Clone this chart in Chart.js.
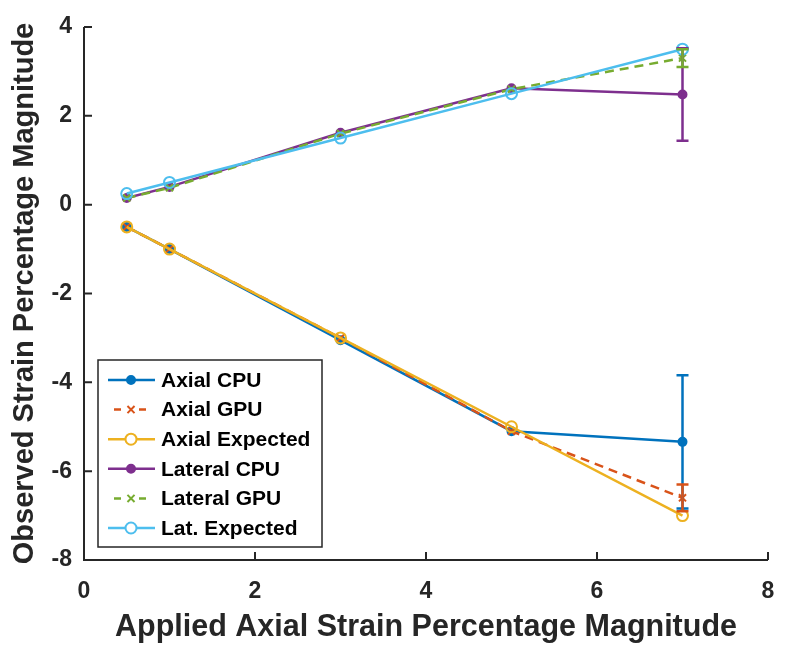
<!DOCTYPE html>
<html>
<head>
<meta charset="utf-8">
<script src="https://cdn.jsdelivr.net/npm/chart.js@4/dist/chart.umd.min.js"></script>
<style>
  html, body { margin: 0; padding: 0; background: #fff; }
</style>
</head>
<body>
<canvas id="strainChart" width="787" height="654"></canvas>
<script>
  // applied strain (x) and observed strain per series
  const appliedStrain = [0.5, 1, 3, 5, 7];

  const axialCpu = [-0.5, -1.0, -3.05, -5.1, -5.34];
  const axialGpu = [-0.5, -1.0, -3.0, -5.1, -6.6];
  const axialExpected = [-0.5, -1.0, -3.0, -5.0, -7.0];
  const lateralCpu = [0.15, 0.4, 1.62, 2.62, 2.48];
  const lateralGpu = [0.15, 0.38, 1.6, 2.6, 3.3];
  const latExpected = [0.25, 0.5, 1.5, 2.5, 3.5];

  // error bar half-widths (only the last point has one)
  const axialCpuErr = [0, 0, 0, 0, 1.5];
  const axialGpuErr = [0, 0, 0, 0, 0.3];
  const lateralCpuErr = [0, 0, 0, 0, 1.04];
  const lateralGpuErr = [0, 0, 0, 0, 0.2];

  const xTicks = [0, 2, 4, 6, 8];
  const yTicks = [-8, -6, -4, -2, 0, 2, 4];

  const FONT = "'Liberation Sans', Arial, sans-serif";
  const AXIS_COLOR = "#262626";

  function toPoints(ys) {
    return appliedStrain.map((x, i) => ({ x: x, y: ys[i] }));
  }

  function series(label, ys, color, kind, err, order) {
    const ds = {
      label: label,
      data: toPoints(ys),
      borderColor: color,
      backgroundColor: color,
      borderWidth: 2.5,
      pointBorderColor: color,
      pointBorderWidth: 2,
      tension: 0,
      fill: false,
      order: order,
      errors: err || null,
      kind: kind,
    };
    if (kind === "cpu") {
      ds.pointStyle = "circle";
      ds.pointRadius = 4;
      ds.pointBackgroundColor = color;
    } else if (kind === "gpu") {
      ds.pointStyle = "crossRot";
      ds.pointRadius = 5;
      ds.borderDash = [9, 6];
    } else {
      ds.pointStyle = "circle";
      ds.pointRadius = 5.5;
      ds.pointBackgroundColor = "rgba(255,255,255,0)";
    }
    return ds;
  }

  const errorBars = {
    id: "errorBars",
    afterDatasetsDraw(chart) {
      const { ctx, scales: { x, y } } = chart;
      ctx.save();
      chart.data.datasets.forEach((ds) => {
        if (!ds.errors) return;
        ctx.strokeStyle = ds.borderColor;
        ctx.lineWidth = 2.5;
        ds.data.forEach((p, i) => {
          const e = ds.errors[i];
          if (!e) return;
          const px = x.getPixelForValue(p.x);
          const top = y.getPixelForValue(p.y + e);
          const bot = y.getPixelForValue(p.y - e);
          ctx.beginPath();
          ctx.moveTo(px, top);
          ctx.lineTo(px, bot);
          ctx.moveTo(px - 6, top);
          ctx.lineTo(px + 6, top);
          ctx.moveTo(px - 6, bot);
          ctx.lineTo(px + 6, bot);
          ctx.stroke();
        });
      });
      ctx.restore();
    },
  };

  const matlabAxes = {
    id: "matlabAxes",
    afterDraw(chart) {
      const { ctx, chartArea: a, scales: { x, y } } = chart;
      ctx.save();
      ctx.strokeStyle = AXIS_COLOR;
      ctx.lineWidth = 2;
      ctx.beginPath();
      ctx.moveTo(a.left, a.top);
      ctx.lineTo(a.left, a.bottom);
      ctx.lineTo(a.right, a.bottom);
      x.ticks.forEach((t) => {
        const px = x.getPixelForValue(t.value);
        ctx.moveTo(px, a.bottom);
        ctx.lineTo(px, a.bottom - 8);
      });
      y.ticks.forEach((t) => {
        const py = y.getPixelForValue(t.value);
        ctx.moveTo(a.left, py);
        ctx.lineTo(a.left + 8, py);
      });
      ctx.stroke();
      ctx.restore();
    },
  };

  const boxLegend = {
    id: "boxLegend",
    afterDraw(chart) {
      const { ctx, chartArea: a } = chart;
      const left = a.left + 14;
      const w = 224;
      const h = 187;
      const top = a.bottom - 13 - h;
      ctx.save();
      ctx.fillStyle = "#fff";
      ctx.fillRect(left, top, w, h);
      ctx.strokeStyle = AXIS_COLOR;
      ctx.lineWidth = 1.5;
      ctx.strokeRect(left, top, w, h);
      ctx.font = "bold 21px " + FONT;
      ctx.textBaseline = "middle";
      chart.data.datasets.forEach((ds, i) => {
        const cy = top + 20 + i * 29.6;
        const x0 = left + 10;
        const x1 = left + 57;
        const mx = left + 33;
        ctx.strokeStyle = ds.borderColor;
        ctx.lineWidth = 2.5;
        ctx.beginPath();
        if (ds.borderDash) {
          ctx.moveTo(mx - 17, cy);
          ctx.lineTo(mx - 10, cy);
          ctx.moveTo(mx + 8, cy);
          ctx.lineTo(mx + 15, cy);
        } else {
          ctx.moveTo(x0, cy);
          ctx.lineTo(x1, cy);
        }
        ctx.stroke();
        ctx.fillStyle = ds.kind === "exp" ? "#fff" : ds.borderColor;
        ctx.lineWidth = 2;
        Chart.helpers.drawPoint(ctx, {
          pointStyle: ds.pointStyle,
          radius: ds.pointRadius,
          rotation: 0,
          borderWidth: 2,
        }, mx, cy);
        ctx.fillStyle = "#000";
        ctx.fillText(ds.label, left + 63, cy + 1);
      });
      ctx.restore();
    },
  };

  const ctx = document.getElementById("strainChart").getContext("2d");
  const strainChart = new Chart(ctx, {
    type: "line",
    data: {
      datasets: [
        series("Axial CPU", axialCpu, "#0072BD", "cpu", axialCpuErr, 6),
        series("Axial GPU", axialGpu, "#D95319", "gpu", axialGpuErr, 5),
        series("Axial Expected", axialExpected, "#EDB120", "exp", null, 4),
        series("Lateral CPU", lateralCpu, "#7E2F8E", "cpu", lateralCpuErr, 3),
        series("Lateral GPU", lateralGpu, "#77AC30", "gpu", lateralGpuErr, 2),
        series("Lat. Expected", latExpected, "#4DBEEE", "exp", null, 1),
      ],
    },
    options: {
      responsive: false,
      animation: false,
      layout: { padding: { top: 27, right: 19, left: 0, bottom: 0 } },
      plugins: {
        legend: { display: false },
        tooltip: { enabled: false },
      },
      scales: {
        x: {
          type: "linear",
          min: 0,
          max: 8,
          afterBuildTicks: (s) => { s.ticks = xTicks.map((v) => ({ value: v })); },
          afterFit: (s) => {
            s.height = 94;
            s.paddingLeft = 0;
            s.paddingRight = 0;
          },
          grid: { display: false, drawTicks: false },
          border: { display: false },
          ticks: {
            color: AXIS_COLOR,
            padding: 18,
            font: { family: FONT, size: 23, weight: "bold" },
          },
          title: {
            display: true,
            text: "Applied Axial Strain Percentage Magnitude",
            color: AXIS_COLOR,
            padding: { top: 0, bottom: 8 },
            font: { family: FONT, size: 30.5, weight: "bold" },
          },
        },
        y: {
          type: "linear",
          min: -8,
          max: 4,
          afterBuildTicks: (s) => { s.ticks = yTicks.map((v) => ({ value: v })); },
          afterFit: (s) => { s.width = 84; },
          grid: { display: false, drawTicks: false },
          border: { display: false },
          ticks: {
            color: AXIS_COLOR,
            padding: 12,
            font: { family: FONT, size: 23, weight: "bold" },
          },
          title: {
            display: true,
            text: "Observed Strain Percentage Magnitude",
            color: AXIS_COLOR,
            padding: { top: 8, bottom: 0 },
            font: { family: FONT, size: 29, weight: "bold" },
          },
        },
      },
    },
    plugins: [errorBars, matlabAxes, boxLegend],
  });
</script>
</body>
</html>
